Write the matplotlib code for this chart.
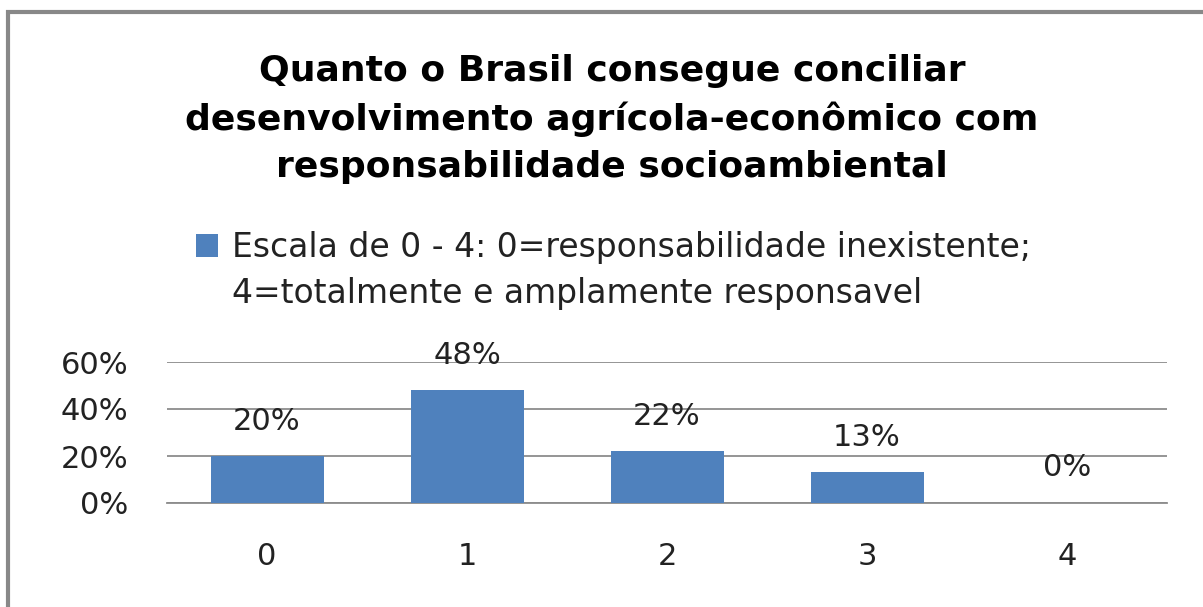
import matplotlib
matplotlib.use("Agg")
import matplotlib.pyplot as plt
from matplotlib.patches import Rectangle

categories = ["0", "1", "2", "3", "4"]
values = [20, 48, 22, 13, 0]
yticks = [0, 20, 40, 60]
title = ("Quanto o Brasil consegue conciliar\n"
         "desenvolvimento agrícola-econômico com\n"
         "responsabilidade socioambiental")
legend_lines = ["Escala de 0 - 4: 0=responsabilidade inexistente;",
                "4=totalmente e amplamente responsavel"]

plt.rcParams['font.family'] = ['DejaVu Sans']

fig = plt.figure(figsize=(12.03, 6.07), dpi=100)

# outer chart border (cropped on right / bottom)
fig.patches.append(Rectangle((8 / 1203, -0.1), 1.2, 1 - 12 / 607 + 0.1,
                             transform=fig.transFigure, fill=False,
                             edgecolor='#888888', linewidth=3))

ax = fig.add_axes([167 / 1203, 1 - 503 / 607, 1000 / 1203, 141 / 607])
x = range(len(categories))
bars = ax.bar(x, values, width=0.565, color='#4F81BD', zorder=3)
ax.set_xlim(-0.5, len(categories) - 0.5)
ax.set_ylim(0, 60)
ax.set_yticks(yticks)
ax.set_yticklabels([f"{v}%" for v in yticks])
ax.set_xticks(list(x))
ax.set_xticklabels(categories)
ax.tick_params(axis='both', length=0, labelsize=22, colors='#222222')
ax.tick_params(axis='y', pad=28)
ax.tick_params(axis='x', pad=28)
ax.grid(axis='y', color='#8c8c8c', linewidth=1.3, zorder=0)
for s in ['top', 'right', 'left']:
    ax.spines[s].set_visible(False)
ax.spines['bottom'].set_color('#8c8c8c')
ax.spines['bottom'].set_linewidth(1.3)

for b, v in zip(bars, values):
    ax.annotate(f"{v}%", (b.get_x() + b.get_width() / 2, v),
                xytext=(0, 35), textcoords='offset pixels',
                ha='center', va='center', fontsize=22, color='#222222')

fig.text(612 / 1203, 1 - 119 / 607, title, ha='center', va='center',
         fontsize=26, fontweight='bold', linespacing=1.47, color='black')

leg = fig.legend(handles=[bars], labels=[legend_lines[0]],
                 loc='upper left', bbox_to_anchor=(196 / 1203, 1 - 231 / 607),
                 frameon=False, fontsize=23.8, handlelength=0.67, handleheight=0.67,
                 handletextpad=0.43, borderaxespad=0, borderpad=0)
leg.get_texts()[0].set_color('#222222')

# second legend line, aligned under the first one
fig.canvas.draw()
tb = leg.get_texts()[0].get_window_extent()
fig.text(tb.x0 / 1203, 1 - 293 / 607, legend_lines[1], ha='left', va='center',
         fontsize=23.8, color='#222222')

fig.savefig("out.png", dpi=100)
